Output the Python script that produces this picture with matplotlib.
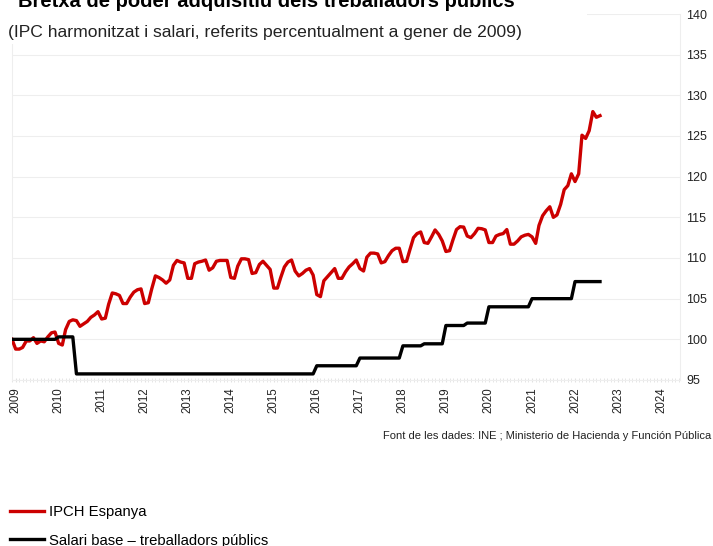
import matplotlib
matplotlib.use("Agg")
import matplotlib.pyplot as plt
import matplotlib.dates as mdates
from matplotlib.patches import Rectangle
import numpy as np
import pandas as pd

plt.rcParams["font.family"] = ["Liberation Sans", "DejaVu Sans"]

# IPCH Espanya, monthly, Dec 2008 = 100
ipch_2008 = [100.0]
ipch_2009 = [98.8, 98.8, 99.0, 99.8, 99.8, 100.2, 99.5, 99.8, 99.7, 100.3, 100.8, 100.9]
ipch_2010 = [99.5, 99.3, 101.2, 102.2, 102.4, 102.3, 101.6, 101.9, 102.2, 102.7, 103.0, 103.4]
ipch_2011 = [102.5, 102.6, 104.3, 105.7, 105.6, 105.4, 104.4, 104.4, 105.2, 105.8, 106.1, 106.2]
ipch_2012 = [104.4, 104.5, 106.2, 107.8, 107.6, 107.3, 106.9, 107.3, 109.1, 109.7, 109.5, 109.4]
ipch_2013 = [107.5, 107.5, 109.3, 109.5, 109.6, 109.75, 108.5, 108.8, 109.6, 109.7, 109.7, 109.7]
ipch_2014 = [107.6, 107.5, 109.0, 109.9, 109.9, 109.8, 108.1, 108.2, 109.2, 109.6, 109.1, 108.6]
ipch_2015 = [106.3, 106.3, 107.6, 108.9, 109.5, 109.75, 108.4, 107.8, 108.1, 108.5, 108.7, 107.9]
ipch_2016 = [105.5, 105.25, 107.2, 107.7, 108.2, 108.7, 107.5, 107.5, 108.3, 108.9, 109.3, 109.75]
ipch_2017 = [108.7, 108.4, 110.1, 110.6, 110.6, 110.5, 109.4, 109.55, 110.3, 110.9, 111.2, 111.2]
ipch_2018 = [109.55, 109.6, 111.0, 112.5, 113.0, 113.2, 111.9, 111.8, 112.6, 113.45, 112.9, 112.1]
ipch_2019 = [110.8, 110.9, 112.2, 113.5, 113.85, 113.8, 112.7, 112.5, 113.0, 113.65, 113.6, 113.45]
ipch_2020 = [111.9, 111.9, 112.7, 112.9, 113.0, 113.5, 111.7, 111.7, 112.1, 112.6, 112.8, 112.9]
ipch_2021 = [112.6, 111.8, 114.0, 115.2, 115.8, 116.3, 115.0, 115.3, 116.6, 118.4, 118.9, 120.35]
ipch_2022 = [119.4, 120.35, 125.1, 124.7, 125.65, 128.0, 127.3, 127.5]

# Salari base treballadors publics: level and number of months it holds
salari_nivell = [100.0, 100.3, 95.75, 96.75, 97.7, 99.2, 99.45, 101.7, 102.0, 104.0, 105.0, 107.1]
salari_mesos = [13, 5, 67, 12, 12, 6, 6, 6, 6, 12, 12, 8]

anys = list(range(2009, 2025))

ipch = (ipch_2008 + ipch_2009 + ipch_2010 + ipch_2011 + ipch_2012 + ipch_2013
        + ipch_2014 + ipch_2015 + ipch_2016 + ipch_2017 + ipch_2018 + ipch_2019
        + ipch_2020 + ipch_2021 + ipch_2022)
salari = np.repeat(salari_nivell, salari_mesos)
dates = pd.date_range("2008-12-01", periods=len(ipch), freq="MS")

W, H = 713, 546
fig = plt.figure(figsize=(W / 100, H / 100), dpi=100)
ax = fig.add_axes([12 / W, 1 - 380 / H, (680 - 12) / W, (380 - 14) / H])

grid_c = "#eeeeee"
ax.plot(dates, ipch, color="#cc0000", lw=2.4, solid_joinstyle="round", zorder=3,
        label="IPCH Espanya")
ax.plot(dates, salari, color="black", lw=2.4, solid_joinstyle="round", zorder=4,
        label="Salari base \u2013 treballadors p\u00fablics")

ax.set_ylim(95, 140)
ax.set_yticks(range(95, 141, 5))
ax.set_xlim(pd.Timestamp("2008-12-01"), pd.Timestamp("2024-06-10"))
ax.set_xticks([pd.Timestamp(f"{y}-01-01") for y in anys])
ax.set_xticklabels([str(y) for y in anys], rotation=90, fontsize=8.3)
ax.xaxis.set_minor_locator(mdates.MonthLocator())

ax.yaxis.tick_right()
ax.tick_params(axis="y", length=0, pad=4.5, labelsize=9, colors="#222222")
ax.tick_params(axis="x", which="both", direction="inout", length=3.5,
               color="#e2e2e2", pad=3.5, labelcolor="#222222")
ax.grid(axis="y", color=grid_c, lw=0.8)
ax.spines["top"].set_visible(False)
for side in ["left", "right", "bottom"]:
    ax.spines[side].set_color(grid_c)
    ax.spines[side].set_linewidth(0.8)

# white header box over the plot, as in the source chart
fig.add_artist(Rectangle((0, 1 - 44 / H), 587 / W, 44 / H, transform=fig.transFigure,
                         facecolor="white", edgecolor="none", zorder=5))
fig.text(18 / W, 1 - 6.7 / H, "Bretxa de poder adquisitiu dels treballadors p\u00fablics",
         fontsize=14.5, fontweight="bold", va="baseline", ha="left", zorder=6)
fig.text(8 / W, 1 - 36.7 / H,
         "(IPC harmonitzat i salari, referits percentualment a gener de 2009)",
         fontsize=12.6, va="baseline", ha="left", color="#222222", zorder=6)

fig.text(711 / W, 1 - 436 / H,
         "Font de les dades: INE ; Ministerio de Hacienda y Funci\u00f3n P\u00fablica",
         fontsize=8, ha="right", va="center", color="#222222")

fig.legend(loc="center left", bbox_to_anchor=(10 / W, 1 - 526.5 / H), frameon=False,
           fontsize=10.7, handlelength=2.3, handletextpad=0.35, labelspacing=0.95,
           borderpad=0, borderaxespad=0)

fig.savefig("out.png", dpi=100, facecolor="white")
